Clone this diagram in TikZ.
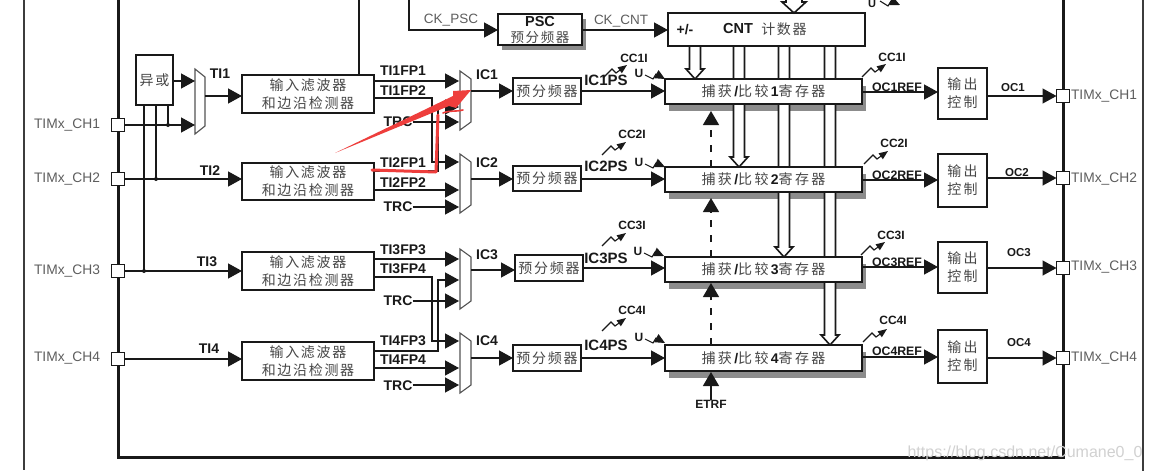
\documentclass[tikz,border=0pt]{standalone}
\usepackage{fontspec}
\setmainfont{Liberation Sans}
\newfontfamily\cjk[LetterSpace=12]{Noto Sans CJK SC}
\usetikzlibrary{arrows.meta,calc}
\pgfdeclarelayer{bg}\pgfdeclarelayer{mid}\pgfsetlayers{bg,mid,main}
\definecolor{ink}{gray}{0.1}
\definecolor{cjkink}{gray}{0.28}
\definecolor{shade}{gray}{0.55}
\definecolor{redmark}{RGB}{238,62,60}
\newcount\labn
\tikzset{
 x=1pt,y=-1pt,
 >={Triangle[length=14pt,width=15pt]},
 wire/.style={line width=1.4pt,draw=ink},
 arr/.style={wire,->},
 box/.style={draw=ink,fill=white,line width=1.9pt,inner sep=0pt,outer sep=0pt,align=center,text=cjkink,font=\cjk\fontsize{14}{18}\selectfont},
 port/.style={draw=ink,fill=white,line width=1.6pt,inner sep=0pt,outer sep=0pt,minimum size=13pt},
 muxnode/.style={inner sep=0pt,outer sep=0pt},
 muxline/.style={draw=ink!75,fill=white,line width=1.1pt},
 bl/.style={text=ink,inner sep=0pt,font=\bfseries\fontsize{#1}{#1}\selectfont},
 rg/.style={text=ink!70,inner sep=0pt,font=\fontsize{#1}{#1}\selectfont},
 cj/.style={text=cjkink,inner sep=0pt,font=\cjk\fontsize{14}{18}\selectfont},
 bus/.style={draw=ink,fill=white,line width=1.6pt,line join=miter},
 frame/.style={draw=ink,line width=3pt},
 outer/.style={draw=ink!85,line width=1.8pt},
 squigline/.style={draw=ink,line width=1.1pt,-{Triangle[length=9pt,width=7pt]}},
 dot/.style={circle,fill=ink,inner sep=0pt,minimum size=4pt},
 shadowfill/.style={fill=shade},
 dash1/.style={wire,->,dash pattern=on 7pt off 8pt,>={Triangle[length=14pt,width=16pt]}},
 redarrow/.style={fill=redmark,draw=none},
 redline/.style={draw=redmark,line width=3pt,line join=round,line cap=round},
}
\newcommand{\bx}[7][]{%
 \pgfmathsetmacro{\cxx}{(#3+#5)/2}\pgfmathsetmacro{\cyy}{(#4+#6)/2}%
 \pgfmathsetmacro{\ww}{#5-#3}\pgfmathsetmacro{\hh}{#6-#4}%
 \node[box,minimum width=\ww pt,minimum height=\hh pt,#1] (#2) at (\cxx,\cyy) {#7};}
\newcommand{\mymux}[5]{%
 \pgfmathsetmacro{\cxx}{(#2+#4)/2}\pgfmathsetmacro{\cyy}{(#3+#5)/2}%
 \pgfmathsetmacro{\ww}{#4-#2}\pgfmathsetmacro{\hh}{#5-#3}%
 \node[muxnode,minimum width=\ww pt,minimum height=\hh pt] (#1) at (\cxx,\cyy) {};
 \path[muxline] (#1.north west) -- ([yshift=-8pt]#1.north east) -- ([yshift=8pt]#1.south east) -- (#1.south west) -- cycle;}
\newcommand{\lab}[4]{\global\advance\labn by 1 \node[#3,name=t\the\labn] at (#1,#2) {#4};}
\newcommand{\shadow}[3]{\begin{pgfonlayer}{bg}\fill[shadowfill] ([shift={(#2,#3)}]#1.north west) rectangle ([shift={(#2,#3)}]#1.south east);\end{pgfonlayer}}
\newcommand{\squig}[2]{\draw[squigline] (#1,#2) -- ++(9,-9) -- ++(4,4) -- ++(11,-8);}
\newcommand{\usq}[3]{\lab{#1}{#2}{bl=12}{U}\draw[squigline,-{Triangle[length=10pt,width=9pt]}] (#1+6,#2+2) -- ++(8,4) -- ++(3,-5) -- ++(9,#3);}
\newcommand{\hbus}[2]{\path[bus] ([xshift=-5.5pt]#1) -- ([xshift=-5.5pt,yshift=10pt]#2) -- ([xshift=-9pt,yshift=10pt]#2) -- (#2) -- ([xshift=9pt,yshift=10pt]#2) -- ([xshift=5.5pt,yshift=10pt]#2) -- ([xshift=5.5pt]#1);}
\newcommand{\captxt}[1]{捕\,获\,{\normalfont\bfseries\color{ink}/}比\,较\,{\normalfont\bfseries\color{ink}#1}寄\,存\,器}
\begin{document}
\begin{tikzpicture}
\useasboundingbox (0,0) rectangle (1152,471);
\begin{pgfonlayer}{bg}\fill[white] (0,0) rectangle (1152,471);\end{pgfonlayer}
% outer lines and frame
\draw[outer] (24,-2) -- (24,470);
\draw[outer] (1143,-2) -- (1143,473);
\draw[frame] (118,-2) -- (118,457) -- (1063,457) -- (1063,-2);
% ports
\node[port] (pl1) at (118,125) {};
\node[port] (pl2) at (118,179) {};
\node[port] (pl3) at (118,271) {};
\node[port] (pl4) at (118,359) {};
\node[port] (pr1) at (1063,96) {};
\node[port] (pr2) at (1063,178) {};
\node[port] (pr3) at (1063,268) {};
\node[port] (pr4) at (1063,358) {};
\lab{67}{125}{rg=13.8}{TIMx\_CH1}
\lab{67}{179}{rg=13.8}{TIMx\_CH2}
\lab{67}{271}{rg=13.8}{TIMx\_CH3}
\lab{67}{358}{rg=13.8}{TIMx\_CH4}
\lab{1104}{96}{rg=13.8}{TIMx\_CH1}
\lab{1104}{179}{rg=13.8}{TIMx\_CH2}
\lab{1104}{267}{rg=13.8}{TIMx\_CH3}
\lab{1104}{358}{rg=13.8}{TIMx\_CH4}
% boxes
\bx{xor}{136}{55}{173}{105}{异或}
\bx{f1}{242}{75}{374}{113}{输入滤波器\\和边沿检测器}
\bx{f2}{242}{163}{374}{200}{输入滤波器\\和边沿检测器}
\bx{f3}{242}{252}{374}{290}{输入滤波器\\和边沿检测器}
\bx{f4}{242}{342}{374}{380}{输入滤波器\\和边沿检测器}
\mymux{mt}{195}{69}{205}{134}
\mymux{m1}{460}{71}{471}{130}
\mymux{m2}{460}{154}{471}{213}
\mymux{m3}{460}{249}{471}{309}
\mymux{m4}{460}{333}{471}{393}
\bx{d1}{513}{78}{581}{104}{预分频器}
\bx{d2}{513}{166}{581}{191}{预分频器}
\bx{d3}{515}{255}{583}{281}{预分频器}
\bx{d4}{513}{345}{581}{371}{预分频器}
\bx{c1}{665}{79}{862}{104}{\captxt{1}}
\bx{c2}{665}{167}{862}{192}{\captxt{2}}
\bx{c3}{665}{257}{862}{282}{\captxt{3}}
\bx{c4}{665}{345}{862}{371}{\captxt{4}}
\shadow{c1}{4}{7}\shadow{c2}{4}{7}\shadow{c3}{4}{7}\shadow{c4}{4}{7}
\bx{o1}{938}{68}{987}{119}{输\,出\\控\,制}
\bx{o2}{938}{154}{987}{207}{输\,出\\控\,制}
\bx{o3}{938}{242}{987}{293}{输\,出\\控\,制}
\bx{o4}{938}{330}{987}{383}{输\,出\\控\,制}
\bx{psc}{498}{14}{582}{45}{}
\shadow{psc}{4}{5}
\lab{540}{22}{bl=14.5}{PSC}
\lab{540}{37}{cj,font=\cjk\fontsize{13.5}{14}\selectfont}{预分频器}
\bx{cnt}{668}{13}{865}{46}{}
\lab{685}{30}{bl=14}{+/-}
\lab{738}{29}{bl=14.5}{CNT}
\lab{784}{29}{cj}{计数器}
% top feed lines
\coordinate (topa) at (359,-2);
\coordinate (topb) at (409,-2);
\coordinate (pscin) at (409,30);
\draw[wire] (f1.north -| topa) -- (topa);
\draw[arr] (topb) -- (pscin) -- (pscin -| psc.west);
\lab{451}{20}{rg=13.5}{CK\_PSC}
\coordinate (cntin) at (582,30);
\draw[arr] (cntin) -- (cntin -| cnt.west);
\lab{621}{21}{rg=13.5}{CK\_CNT}
\coordinate (toptip) at (794,13);
\path[bus] (786,-2) -- (786,2) -- (782,2) -- (toptip) -- (806,2) -- (802,2) -- (802,-2);
\lab{872}{4}{bl=11}{U}
\draw[squigline,-{Triangle[length=10pt,width=9pt]}] (880,1) -- (888,6) -- (891,1) -- (900,5);
% input network
\foreach \y/\xx in {271/144,179/156,125/168}{\draw[wire] (\xx,105) -- (\xx,\y);}
\node[dot] (j3) at (144,271) {};
\node[dot] (j2) at (156,179) {};
\node[dot] (j1) at (168,125) {};
\coordinate (mta) at (195,81);
\coordinate (mtb) at (195,125);
\draw[arr] (xor.east |- mta) -- (mta);
\draw[arr] (pl1.east) -- (mtb);
\coordinate (mto) at (205,96);
\draw[arr] (mto) -- (mto -| f1.west);
\draw[arr] (pl2.east) -- (pl2.east -| f2.west);
\draw[arr] (pl3.east) -- (pl3.east -| f3.west);
\draw[arr] (pl4.east) -- (pl4.east -| f4.west);
\lab{220}{74}{bl=14}{TI1}
\lab{210}{171}{bl=14}{TI2}
\lab{207}{262}{bl=14}{TI3}
\lab{209}{349}{bl=14}{TI4}
% mux inputs
\coordinate (m1a) at (459,81);\coordinate (m1b) at (459,107);\coordinate (m1c) at (459,122);
\coordinate (m2a) at (459,162);\coordinate (m2b) at (459,190);\coordinate (m2c) at (459,207);
\coordinate (m3a) at (459,259);\coordinate (m3b) at (459,280);\coordinate (m3c) at (459,301);
\coordinate (m4a) at (459,341);\coordinate (m4b) at (459,368);\coordinate (m4c) at (459,385);
\node[bl=14] (trc1) at (398,122) {TRC};
\node[bl=14] (trc2) at (398,207) {TRC};
\node[bl=14] (trc3) at (398,301) {TRC};
\node[bl=14] (trc4) at (398,386) {TRC};
\draw[arr] (f1.east |- m1a) -- (m1a);
\draw[arr] (374,98) -- (432,98) -- (432,162) -- (m2a);
\draw[arr] (374,171) -- (438,171) -- (438,107) -- (m1b);
\draw[arr] (trc1.east |- m1c) -- (m1c);
\draw[arr] (f2.east |- m2b) -- (m2b);
\draw[arr] (trc2.east |- m2c) -- (m2c);
\draw[arr] (f3.east |- m3a) -- (m3a);
\draw[arr] (374,277) -- (432,277) -- (432,341) -- (m4a);
\draw[arr] (374,351) -- (438,351) -- (438,280) -- (m3b);
\draw[arr] (trc3.east |- m3c) -- (m3c);
\draw[arr] (f4.east |- m4b) -- (m4b);
\draw[arr] (trc4.east |- m4c) -- (m4c);
\lab{403}{71}{bl=14}{TI1FP1}
\lab{403}{91}{bl=14}{TI1FP2}
\lab{403}{163}{bl=14}{TI2FP1}
\lab{403}{183}{bl=14}{TI2FP2}
\lab{403}{250}{bl=14}{TI3FP3}
\lab{403}{269}{bl=14}{TI3FP4}
\lab{403}{341}{bl=14}{TI4FP3}
\lab{403}{360}{bl=14}{TI4FP4}
\lab{487}{75}{bl=14}{IC1}
\lab{487}{163}{bl=14}{IC2}
\lab{487}{255}{bl=14}{IC3}
\lab{487}{341}{bl=14}{IC4}
% mux -> prescaler -> capture
\coordinate (y1) at (471,91);\coordinate (y2) at (471,179);\coordinate (y3) at (471,270);\coordinate (y4) at (471,358);
\draw[arr] (y1) -- (y1 -| d1.west);
\draw[arr] (y2) -- (y2 -| d2.west);
\draw[arr] (y3) -- (y3 -| d3.west);
\draw[arr] (y4) -- (y4 -| d4.west);
\coordinate (z1) at (581,91);\coordinate (z2) at (581,179);\coordinate (z3) at (583,268);\coordinate (z4) at (581,358);
\draw[arr] (z1) -- (z1 -| c1.west);
\draw[arr] (z2) -- (z2 -| c2.west);
\draw[arr] (z3) -- (z3 -| c3.west);
\draw[arr] (z4) -- (z4 -| c4.west);
\lab{606}{80}{bl=15}{IC1PS}
\lab{606}{166}{bl=15}{IC2PS}
\lab{606}{258}{bl=15}{IC3PS}
\lab{606}{345}{bl=15}{IC4PS}
\squig{603}{78}\lab{634}{58}{bl=12}{CC1I}
\squig{602}{155}\lab{632}{134}{bl=12}{CC2I}
\squig{602}{246}\lab{632}{225}{bl=12}{CC3I}
\squig{602}{331}\lab{632}{310}{bl=12}{CC4I}
\usq{639}{73}{5}
\usq{639}{162}{4}
\usq{638}{251}{4}
\usq{639}{337}{5}
% capture -> output -> port
\coordinate (u1) at (862,92);\coordinate (u2) at (862,180);\coordinate (u3) at (862,267);\coordinate (u4) at (862,357);
\draw[arr] (u1) -- (u1 -| o1.west);
\draw[arr] (u2) -- (u2 -| o2.west);
\draw[arr] (u3) -- (u3 -| o3.west);
\draw[arr] (u4) -- (u4 -| o4.west);
\draw[arr] (o1.east |- pr1) -- (pr1.west);
\draw[arr] (o2.east |- pr2) -- (pr2.west);
\draw[arr] (o3.east |- pr3) -- (pr3.west);
\draw[arr] (o4.east |- pr4) -- (pr4.west);
\lab{897}{87}{bl=12.3}{OC1REF}
\lab{897}{175}{bl=12.3}{OC2REF}
\lab{897}{262}{bl=12.3}{OC3REF}
\lab{897}{351}{bl=12.3}{OC4REF}
\squig{862}{77}\lab{892}{57}{bl=12}{CC1I}
\squig{864}{164}\lab{894}{143}{bl=12}{CC2I}
\squig{861}{255}\lab{891}{235}{bl=12}{CC3I}
\squig{863}{342}\lab{893}{320}{bl=12}{CC4I}
\lab{1013}{88}{bl=11.5}{OC1}
\lab{1017}{173}{bl=11.5}{OC2}
\lab{1019}{253}{bl=11.5}{OC3}
\lab{1019}{343}{bl=11.5}{OC4}
% buses
\coordinate (b1) at (695,0);\coordinate (b2) at (739,0);\coordinate (b3) at (784,0);\coordinate (b4) at (830,0);
\begin{pgfonlayer}{mid}
\hbus{b1 |- cnt.south}{b1 |- c1.north}
\hbus{b2 |- cnt.south}{b2 |- c2.north}
\hbus{b3 |- cnt.south}{b3 |- c3.north}
\hbus{b4 |- cnt.south}{b4 |- c4.north}
\end{pgfonlayer}
% dashed ETRF path
\node[bl=12] (etrf) at (711,404) {ETRF};
\draw[wire,->,>={Triangle[length=14pt,width=16pt]}] (etrf.north) -- ([yshift=-1pt]etrf.north |- c4.south);
\draw[dash1] (etrf.north |- c4.north) -- ([yshift=-1pt]etrf.north |- c3.south);
\draw[dash1] (etrf.north |- c3.north) -- ([yshift=-6pt]etrf.north |- c2.south);
\draw[dash1] (etrf.north |- c2.north) -- ([yshift=-7pt]etrf.north |- c1.south);
% red annotation
\fill[redarrow] (335,153) -- (453,96) -- (453,91) -- (471,90) -- (456,108) -- (449,106) -- cycle;
\draw[redline] (372,170) -- (436,172) -- (438,115);
\draw[redline,line width=1.6pt] (443,113) .. controls (450,110) and (456,112) .. (463,110);
% watermark
\lab{1025}{453}{text=black!18,inner sep=0pt,font=\fontsize{16}{16}\selectfont}{https://blog.csdn.net/Cumane0\_0}
\end{tikzpicture}
\end{document}
